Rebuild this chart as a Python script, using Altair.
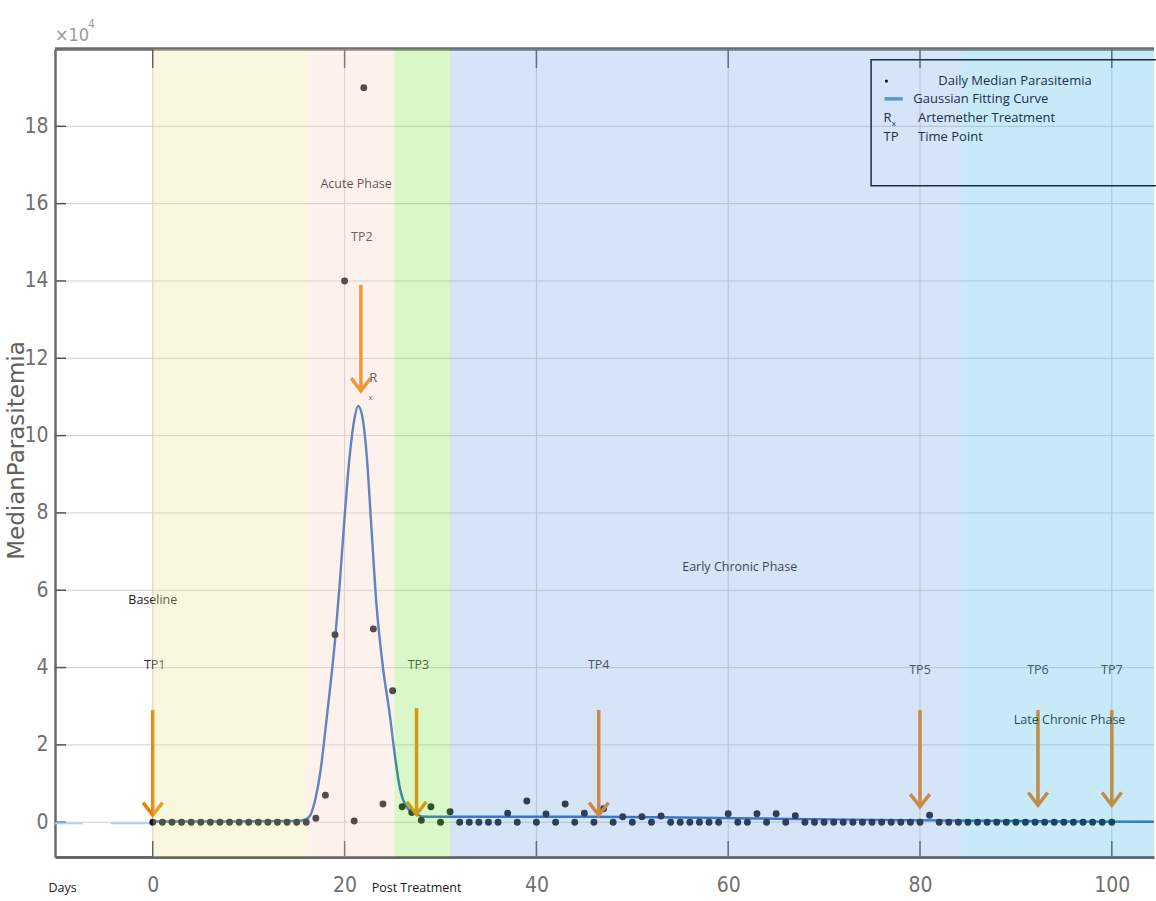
import altair as alt
import pandas as pd

# ---------------------------------------------------------------- data
# daily median parasitemia (units of 10^4), days 0..100
days = list(range(0, 101))
parasitemia = [
    0.00, 0.00, 0.00, 0.00, 0.00, 0.00, 0.00, 0.00, 0.00, 0.00,   # 0-9
    0.00, 0.00, 0.00, 0.00, 0.00, 0.00, 0.00, 0.10, 0.70, 4.85,   # 10-19
    14.0, 0.03, 19.0, 5.00, 0.47, 3.40, 0.40, 0.25, 0.05, 0.40,   # 20-29
    0.00, 0.27, 0.00, 0.00, 0.00, 0.00, 0.00, 0.23, 0.00, 0.55,   # 30-39
    0.00, 0.21, 0.00, 0.47, 0.00, 0.23, 0.00, 0.35, 0.00, 0.14,   # 40-49
    0.00, 0.14, 0.00, 0.16, 0.00, 0.00, 0.00, 0.00, 0.00, 0.00,   # 50-59
    0.22, 0.00, 0.00, 0.22, 0.00, 0.22, 0.00, 0.17, 0.00, 0.00,   # 60-69
    0.00, 0.00, 0.00, 0.00, 0.00, 0.00, 0.00, 0.00, 0.00, 0.00,   # 70-79
    0.00, 0.18, 0.00, 0.00, 0.00, 0.00, 0.00, 0.00, 0.00, 0.00,   # 80-89
    0.00, 0.00, 0.00, 0.00, 0.00, 0.00, 0.00, 0.00, 0.00, 0.00,   # 90-99
    0.00,                                                         # 100
]

# Gaussian fitting curve, sampled
curve_x = [0, 8, 15, 16, 16.5, 17, 17.5, 18, 18.5, 19, 19.5, 20, 20.5, 21, 21.4,
           21.8, 22.3, 22.8, 23.3, 24, 24.7, 25.2, 25.75, 26.45, 27.5, 28.5, 31,
           45, 55, 65, 75, 85, 95, 104.4]
curve_y = [0.02, 0.02, 0.03, 0.08, 0.22, 0.65, 1.35, 2.4, 3.5, 4.7, 6.2, 7.9, 9.4,
           10.4, 10.77, 10.55, 9.5, 7.6, 5.7, 4.0, 2.8, 1.8, 0.9, 0.4, 0.2, 0.14,
           0.14, 0.14, 0.12, 0.09, 0.06, 0.04, 0.02, 0.01]

# faint pre-baseline trace
trace_start = [-10.2, -4.4]
trace_end = [-7.3, 0]
trace_level = [-0.03, -0.03]

# study phases
phase_names = ["baseline", "acute", "post", "early", "late"]
phase_start = [0, 16, 25.2, 31, 84.3]
phase_end = [16, 25.2, 31, 84.3, 104.4]
phase_colors = ["#E8E891", "#F8D0C0", "#84E448", "#76A5E8", "#48B6E8"]

phase_labels = ["Baseline", "Acute Phase", "Early Chronic Phase", "Late Chronic Phase"]
phase_label_x = [0, 21.2, 61.2, 95.6]
phase_label_y = [5.74, 16.5, 6.59, 2.64]

# time points with arrows
tp_labels = ["TP1", "TP2", "TP3", "TP4", "TP5", "TP6", "TP7"]
tp_label_x = [0.2, 21.8, 27.7, 46.5, 80, 92.3, 100]
tp_label_y = [4.06, 15.14, 4.06, 4.06, 3.93, 3.93, 3.93]
arrow_x = [0, 21.7, 27.5, 46.5, 80, 92.3, 100]
arrow_top = [2.9, 13.9, 2.95, 2.9, 2.9, 2.9, 2.9]
arrow_tip = [0.18, 11.16, 0.2, 0.18, 0.4, 0.44, 0.44]

x_ticks = [0, 20, 40, 60, 80, 100]
y_ticks = [0, 2, 4, 6, 8, 10, 12, 14, 16, 18]

X_MIN, X_MAX, Y_MIN, Y_MAX = -10.2, 104.4, -0.9, 20
W, H = 1099, 808

NARROW = "Liberation Sans Narrow, DejaVu Sans Condensed, sans-serif"
TEXT_FONT = "Open Sans"
ARROW = "#F07D00"

# ---------------------------------------------------------------- scales / axes
xs = alt.Scale(domain=[X_MIN, X_MAX], nice=False, zero=False)
ys = alt.Scale(domain=[Y_MIN, Y_MAX], nice=False, zero=False)

x_axis = alt.Axis(values=x_ticks, title=None, grid=False, ticks=False,
                  labelFont=NARROW, labelFontSize=21, labelColor="#707070",
                  labelPadding=17, domainColor="#676767", domainWidth=3)
y_axis = alt.Axis(values=y_ticks, title="MedianParasitemia", grid=False, ticks=False,
                  labelFont=NARROW, labelFontSize=21, labelColor="#707070",
                  labelPadding=7, domainColor="#6b6b6b", domainWidth=2.5,
                  titleFont="DejaVu Sans", titleFontSize=23, titleFontWeight="normal",
                  titleColor="#606060", titleX=-27, titleY=401, titleAngle=270,
                  titleBaseline="bottom", titleAlign="center")


def X(f):
    return alt.X(f, type="quantitative", scale=xs, axis=x_axis)


def Y(f):
    return alt.Y(f, type="quantitative", scale=ys, axis=y_axis)


# ---------------------------------------------------------------- frames
pts = pd.DataFrame({"day": days, "val": parasitemia})
curve = pd.DataFrame({"day": curve_x, "val": curve_y})
trace = pd.DataFrame({"x": trace_start, "x2": trace_end, "y": trace_level})
bands = pd.DataFrame({"name": phase_names, "x": phase_start, "x2": phase_end,
                      "y": [Y_MIN] * 5, "y2": [Y_MAX] * 5})
hgrid = pd.DataFrame({"y": y_ticks, "x": [X_MIN] * len(y_ticks), "x2": [X_MAX] * len(y_ticks)})
vgrid = pd.DataFrame({"x": x_ticks, "y": [Y_MIN] * len(x_ticks), "y2": [Y_MAX] * len(x_ticks)})
top_edge = pd.DataFrame({"x": [X_MIN], "x2": [X_MAX], "y": [Y_MAX]})
xt_top = pd.DataFrame({"x": x_ticks, "y": [Y_MAX] * len(x_ticks)})
xt_bot = pd.DataFrame({"x": x_ticks, "y": [Y_MIN] * len(x_ticks)})
yt = pd.DataFrame({"y": y_ticks, "x": [X_MIN] * len(y_ticks)})
arrows = pd.DataFrame({"x": arrow_x, "top": arrow_top, "tip": arrow_tip})
tps = pd.DataFrame({"t": tp_labels, "x": tp_label_x, "y": tp_label_y})
phases = pd.DataFrame({"t": phase_labels, "x": phase_label_x, "y": phase_label_y})

# ---------------------------------------------------------------- layers
grid_h = alt.Chart(hgrid).mark_rule(color="#cfcfcf", strokeWidth=1).encode(
    x=X("x"), x2="x2", y=Y("y"))
grid_v = alt.Chart(vgrid).mark_rule(color="#cfcfcf", strokeWidth=1).encode(
    x=X("x"), y=Y("y"), y2="y2")
top_line = alt.Chart(top_edge).mark_rule(color="#6e6e6e", strokeWidth=3.5).encode(
    x=X("x"), x2="x2", y=Y("y"))
ticks_top = alt.Chart(xt_top).mark_rule(color="#555555", strokeWidth=1.5, y2Offset=19).encode(
    x=X("x"), y=Y("y"), y2="y")
ticks_bot = alt.Chart(xt_bot).mark_rule(color="#555555", strokeWidth=1.5, y2Offset=-16).encode(
    x=X("x"), y=Y("y"), y2="y")
ticks_left = alt.Chart(yt).mark_rule(color="#555555", strokeWidth=1.5, x2Offset=11).encode(
    x=X("x"), x2="x", y=Y("y"))

trace_line = alt.Chart(trace).mark_rule(color="#a9d3ee", strokeWidth=2).encode(
    x=X("x"), x2="x2", y=Y("y"))
fit = alt.Chart(curve).mark_line(color="#1e64be", strokeWidth=2.4, interpolate="monotone").encode(
    x=X("day"), y=Y("val"))
dots = alt.Chart(pts).mark_circle(color="#0c121c", size=48, opacity=1).encode(
    x=X("day"), y=Y("val"))

shafts = alt.Chart(arrows).mark_rule(color=ARROW, strokeWidth=3.5).encode(
    x=X("x"), y=Y("top"), y2="tip")
heads = alt.Chart(arrows).mark_point(
    shape="M-1,-1.3L0,0L1,-1.3", filled=False, color=ARROW,
    strokeWidth=3.5, size=380, opacity=1, strokeJoin="miter").encode(
    x=X("x"), y=Y("tip"))

tp_text = alt.Chart(tps).mark_text(font=TEXT_FONT, fontSize=12.5, color="#333333").encode(
    x=X("x"), y=Y("y"), text="t:N")
phase_text = alt.Chart(phases).mark_text(font=TEXT_FONT, fontSize=12.5, color="#1a1a1a").encode(
    x=X("x"), y=Y("y"), text="t:N")
rx_text = alt.Chart(pd.DataFrame({"t": ["R"], "x": [23.0], "y": [11.5]})).mark_text(
    font=TEXT_FONT, fontSize=13, color="#333333").encode(x=X("x"), y=Y("y"), text="t:N")
rx_sub = alt.Chart(pd.DataFrame({"t": ["x"], "x": [22.7], "y": [10.98]})).mark_text(
    font=TEXT_FONT, fontSize=8, color="#333333").encode(x=X("x"), y=Y("y"), text="t:N")

overlay = alt.Chart(bands).mark_rect(opacity=0.3).encode(
    x=X("x"), x2="x2", y=Y("y"), y2="y2",
    color=alt.Color("name:N", scale=alt.Scale(domain=phase_names, range=phase_colors),
                    legend=None))

# legend box drawn inside the plot, top right
LEG = "#1c2f52"
leg_box = alt.Chart(pd.DataFrame({"x": [74.9], "x2": [107], "y": [16.46], "y2": [19.72]})).mark_rect(
    fillOpacity=0, stroke="#1b2a48", strokeWidth=1.5).encode(
    x=X("x"), x2="x2", y=Y("y"), y2="y2")
leg_dot = alt.Chart(pd.DataFrame({"x": [76.5], "y": [19.17]})).mark_circle(
    color="#111111", size=10, opacity=1).encode(x=X("x"), y=Y("y"))
leg_line = alt.Chart(pd.DataFrame({"x": [76.3], "x2": [78.2], "y": [18.71]})).mark_rule(
    color="#5a93d6", strokeWidth=3.5).encode(x=X("x"), x2="x2", y=Y("y"))
leg_items = pd.DataFrame({
    "t": ["Daily Median Parasitemia", "Gaussian Fitting Curve", "R", "Artemether Treatment",
          "TP", "Time Point"],
    "x": [81.9, 79.3, 76.2, 79.8, 76.2, 79.8],
    "y": [19.17, 18.71, 18.22, 18.22, 17.73, 17.73],
})
leg_text = alt.Chart(leg_items).mark_text(font=TEXT_FONT, fontSize=13, color=LEG, align="left").encode(
    x=X("x"), y=Y("y"), text="t:N")
leg_sub = alt.Chart(pd.DataFrame({"t": ["x"], "x": [77.05], "y": [18.05]})).mark_text(
    font=TEXT_FONT, fontSize=8, color=LEG, align="left").encode(x=X("x"), y=Y("y"), text="t:N")

# texts below the x axis and the exponent above the y axis
below = alt.Chart(pd.DataFrame({"t": ["Days", "Post Treatment"], "x": [-9.4, 27.5]})).mark_text(
    font=TEXT_FONT, fontSize=12.5, color="#1a1a1a").encode(
    x=X("x"), y=alt.value(839), text="t:N")
exp_base = alt.Chart(pd.DataFrame({"t": ["\u00d710"]})).mark_text(
    font=NARROW, fontSize=18, color="#9a9a9a", align="left", baseline="alphabetic").encode(
    x=alt.value(0), y=alt.value(-8), text="t:N")
exp_pow = alt.Chart(pd.DataFrame({"t": ["4"]})).mark_text(
    font=NARROW, fontSize=12, color="#9a9a9a", align="left", baseline="alphabetic").encode(
    x=alt.value(33), y=alt.value(-21), text="t:N")

chart = alt.layer(
    grid_h, grid_v, top_line, ticks_top, ticks_bot, ticks_left,
    trace_line, fit, dots, shafts, heads,
    tp_text, phase_text, rx_text, rx_sub,
    overlay,
    leg_box, leg_dot, leg_line, leg_text, leg_sub,
    below, exp_base, exp_pow,
).properties(
    width=W, height=H,
    autosize=alt.AutoSizeParams(type="none"),
    padding={"left": 55, "top": 49, "right": 2, "bottom": 40},
    background="white",
).configure_view(stroke=None)

chart.save("out.html", embed_options={"renderer": "svg", "actions": False})
